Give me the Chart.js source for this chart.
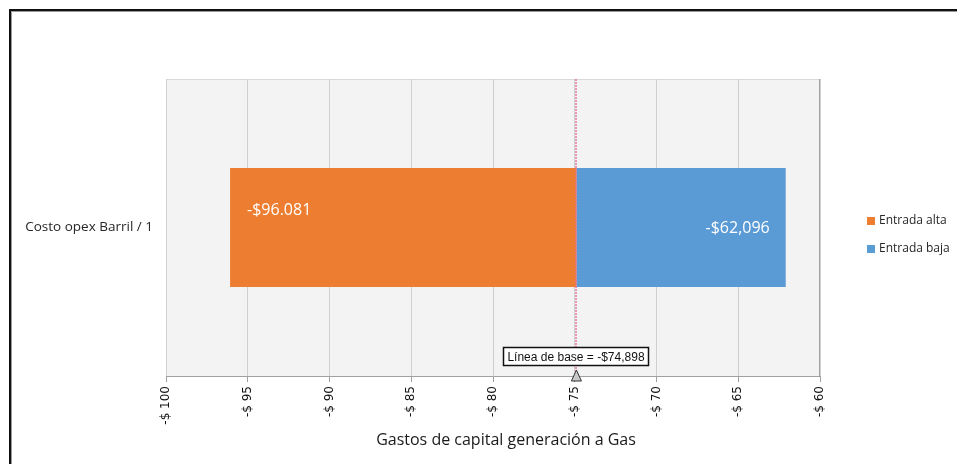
<!DOCTYPE html>
<html>
<head>
<meta charset="utf-8">
<script src="https://cdn.jsdelivr.net/npm/chart.js@4/dist/chart.umd.min.js"></script>
<style>
  html, body { margin: 0; padding: 0; background: #fff; overflow: hidden; }
  canvas { display: block; }
</style>
</head>
<body>
<canvas id="tornado" width="958" height="464"></canvas>
<script>
// Tornado chart: one input, swung between its high and low settings around the baseline.
const categories = ['Costo opex Barril / 1'];
const seriesNames = ['Entrada alta', 'Entrada baja'];
const seriesColors = ['#ed7d31', '#5b9bd5'];
const baselineValue = -74.898;
const highInputValues = [-96.081];
const lowInputValues = [-62.096];
const valueLabels = ['-$96.081', '-$62,096'];
const baselineLabel = 'Línea de base = -$74,898';
const axisTitle = 'Gastos de capital generación a Gas';
const xTickMin = -100;
const xTickMax = -60;
const xTickStep = 5;

const fontUI = '"Open Sans", "Noto Sans", sans-serif';

// White page, outer frame and the grey plot background.
const backdrop = {
  id: 'backdrop',
  beforeDraw(chart) {
    const { ctx, chartArea: a, width, height } = chart;
    ctx.save();
    ctx.fillStyle = '#ffffff';
    ctx.fillRect(0, 0, width, height);
    // frame
    ctx.fillStyle = '#111111';
    ctx.fillRect(9, 9, width - 10, 2);
    ctx.fillRect(9, 9, 2, height - 9);
    ctx.fillStyle = '#9a9a9a';
    ctx.fillRect(11, 11, width - 12, 1);
    ctx.fillRect(11, 11, 1, height - 11);
    // plot area
    ctx.fillStyle = '#f3f3f3';
    ctx.fillRect(a.left, a.top, a.right - a.left, a.bottom - a.top);
    ctx.strokeStyle = '#d9d9d9';
    ctx.lineWidth = 1;
    ctx.beginPath();
    ctx.moveTo(a.left + 0.5, a.bottom);
    ctx.lineTo(a.left + 0.5, a.top + 0.5);
    ctx.lineTo(a.right, a.top + 0.5);
    ctx.stroke();
    ctx.strokeStyle = '#a0a0a0';
    ctx.beginPath();
    ctx.moveTo(Math.round(a.right) - 0.5, a.top);
    ctx.lineTo(Math.round(a.right) - 0.5, a.bottom);
    ctx.stroke();
    ctx.restore();
  }
};

// Baseline rule through the bars and the value text inside each bar.
const barOverlay = {
  id: 'barOverlay',
  afterDatasetsDraw(chart) {
    const { ctx, chartArea: a, scales } = chart;
    const bx = Math.round(scales.x.getPixelForValue(baselineValue));
    ctx.save();
    ctx.strokeStyle = 'rgba(232, 110, 150, 0.7)';
    ctx.lineWidth = 2;
    ctx.setLineDash([2, 1]);
    ctx.beginPath();
    ctx.moveTo(bx, a.top);
    ctx.lineTo(bx, a.bottom);
    ctx.stroke();
    ctx.setLineDash([]);

    ctx.font = '16px ' + fontUI;
    ctx.fillStyle = '#ffffff';
    ctx.textBaseline = 'middle';
    const hi = chart.getDatasetMeta(0).data[0];
    const lo = chart.getDatasetMeta(1).data[0];
    if (hi) {
      const left = Math.min(hi.x, hi.base);
      ctx.textAlign = 'left';
      ctx.fillText(valueLabels[0], left + 17, hi.y - 17);
    }
    if (lo) {
      const right = Math.max(lo.x, lo.base);
      ctx.textAlign = 'right';
      ctx.fillText(valueLabels[1], right - 16, lo.y + 1);
    }
    ctx.restore();
  }
};

// Baseline marker and callout, legend and the x-axis title.
const annotations = {
  id: 'annotations',
  afterDraw(chart) {
    const { ctx, chartArea: a, scales, data } = chart;
    const bx = scales.x.getPixelForValue(baselineValue);
    ctx.save();

    // triangle marker on the axis
    ctx.beginPath();
    ctx.moveTo(bx, a.bottom - 6);
    ctx.lineTo(bx - 5, a.bottom + 5);
    ctx.lineTo(bx + 5, a.bottom + 5);
    ctx.closePath();
    ctx.fillStyle = '#c8c8c8';
    ctx.fill();
    ctx.strokeStyle = '#333333';
    ctx.lineWidth = 1;
    ctx.stroke();

    // callout box
    ctx.font = '12px "Liberation Sans", Arial, sans-serif';
    const tw = ctx.measureText(baselineLabel).width;
    const bw = Math.round(tw + 9);
    const bh = 19;
    const left = Math.round(bx - bw / 2);
    const top = 347;
    ctx.fillStyle = '#ffffff';
    ctx.fillRect(left, top, bw, bh);
    ctx.strokeStyle = '#111111';
    ctx.lineWidth = 1.5;
    ctx.strokeRect(left + 0.5, top + 0.5, bw - 1, bh - 1);
    ctx.fillStyle = '#111111';
    ctx.textAlign = 'center';
    ctx.textBaseline = 'middle';
    ctx.fillText(baselineLabel, left + bw / 2, top + bh / 2 + 1);

    // legend
    ctx.font = '12px ' + fontUI;
    ctx.textAlign = 'left';
    data.datasets.forEach((ds, i) => {
      const cy = 221 + i * 28;
      ctx.fillStyle = ds.backgroundColor;
      ctx.fillRect(867, cy - 4, 8, 8);
      ctx.fillStyle = '#262626';
      ctx.fillText(ds.label, 879, cy);
    });

    // axis title
    ctx.font = '16px ' + fontUI;
    ctx.fillStyle = '#1a1a1a';
    ctx.textAlign = 'center';
    ctx.fillText(axisTitle, 506, 440);
    ctx.restore();
  }
};

new Chart(document.getElementById('tornado'), {
  type: 'bar',
  data: {
    labels: categories,
    datasets: [
      {
        label: seriesNames[0],
        data: highInputValues.map(v => [v, baselineValue]),
        backgroundColor: seriesColors[0],
        borderWidth: 0
      },
      {
        label: seriesNames[1],
        data: lowInputValues.map(v => [baselineValue, v]),
        backgroundColor: seriesColors[1],
        borderWidth: 0
      }
    ]
  },
  options: {
    indexAxis: 'y',
    responsive: false,
    animation: false,
    devicePixelRatio: 1,
    layout: { padding: { left: 0, right: 138, top: 79, bottom: 0 } },
    datasets: { bar: { categoryPercentage: 1, barPercentage: 0.4, grouped: false } },
    plugins: {
      legend: { display: false },
      tooltip: { enabled: false }
    },
    scales: {
      x: {
        type: 'linear',
        min: xTickMin,
        max: xTickMax,
        afterFit(scale) { scale.height = 88; },
        ticks: {
          stepSize: xTickStep,
          minRotation: 90,
          maxRotation: 90,
          padding: 4,
          color: '#111111',
          font: { family: '"DejaVu Sans", Verdana, sans-serif', size: 12 },
          callback: v => '-$ ' + Math.abs(v)
        },
        grid: {
          color: '#d0d0d0',
          tickColor: '#a0a0a0',
          tickLength: 6,
          drawTicks: true
        },
        border: { display: true, color: '#a0a0a0' }
      },
      y: {
        stacked: true,
        afterFit(scale) { scale.width = 166; },
        ticks: {
          padding: 13,
          color: '#262626',
          font: { family: fontUI, size: 13.5 }
        },
        grid: { display: false, drawTicks: false },
        border: { display: false }
      }
    }
  },
  plugins: [backdrop, barOverlay, annotations]
});
</script>
</body>
</html>
